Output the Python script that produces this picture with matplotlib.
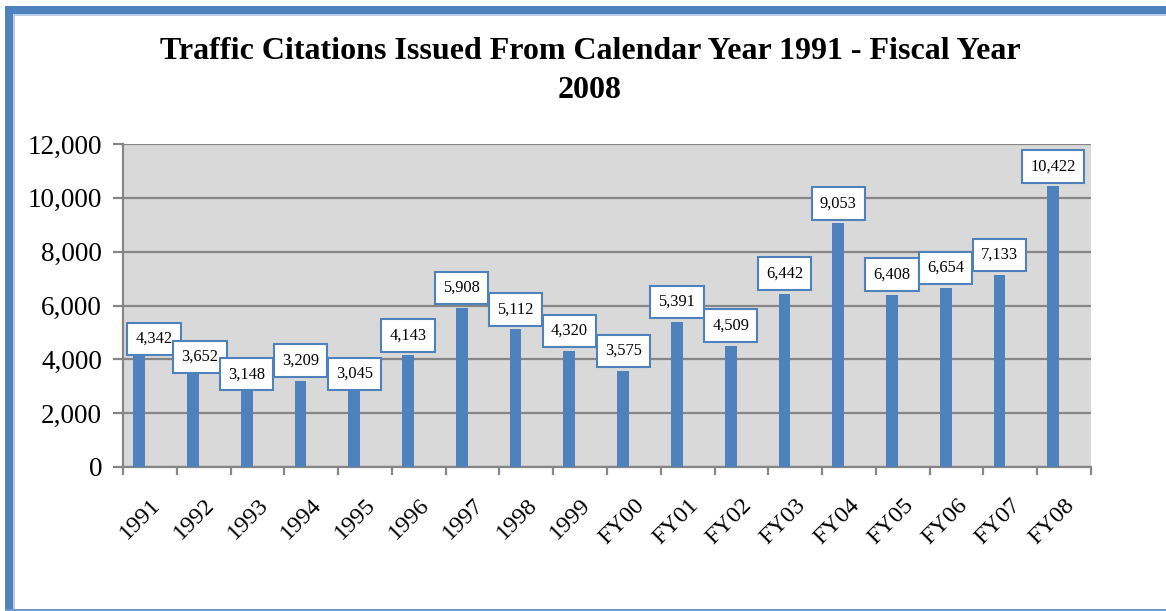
import matplotlib
matplotlib.use("Agg")
import matplotlib.pyplot as plt
from matplotlib.patches import Rectangle

categories = ["1991", "1992", "1993", "1994", "1995", "1996", "1997", "1998", "1999",
              "FY00", "FY01", "FY02", "FY03", "FY04", "FY05", "FY06", "FY07", "FY08"]
citations = [4342, 3652, 3148, 3209, 3045, 4143, 5908, 5112, 4320,
             3575, 5391, 4509, 6442, 9053, 6408, 6654, 7133, 10422]
yticks = [0, 2000, 4000, 6000, 8000, 10000, 12000]
title = "Traffic Citations Issued From Calendar Year 1991 - Fiscal Year\n2008"

# label nudges (pixels) mimicking Excel's label placement
label_dx = [15, 7, 0, 0, 0, 0, 0, 0, 0, 0, 0, 0, 0, 0, 0, 0, 0, 0]
label_dy = [-9, -8, -12, 0, -9, 0, 0, 0, 0, 0, 0, 0, 0, 0, 0, 0, 0, 0]

W, H = 1166, 611
fig = plt.figure(figsize=(W / 100, H / 100), dpi=100)
fig.patch.set_facecolor("white")
plt.rcParams["font.family"] = ["Liberation Serif", "DejaVu Serif"]

blue = "#4F81BD"
ax = fig.add_axes([123 / W, 1 - 467 / H, (1091 - 123) / W, (467 - 144) / H])
ax.set_facecolor("#D9D9D9")

x = list(range(len(categories)))
bx = [i - 0.2 for i in x]
ax.bar(bx, citations, width=0.22, color=blue, zorder=3)

ax.set_xlim(-0.5, len(categories) - 0.5)
ax.set_ylim(0, 12000)
ax.set_yticks(yticks)
ax.set_yticklabels([f"{v:,}" for v in yticks], fontsize=19.5)
ax.yaxis.grid(True, color="#868686", linewidth=1.6, zorder=1)
ax.set_axisbelow(True)

ax.set_xticks([i - 0.5 for i in range(len(categories) + 1)])
ax.set_xticklabels([])
ax.set_xticks(x, minor=True)
ax.set_xticklabels(categories, minor=True, rotation=45, ha="right",
                   rotation_mode="anchor", fontsize=17.5)
ax.tick_params(axis="x", which="minor", length=0, pad=20)
ax.tick_params(axis="x", which="major", length=6, width=1.6, color="#868686", direction="out")
ax.tick_params(axis="y", length=7, width=1.6, color="#868686", direction="out", pad=8)

for s in ["top", "right"]:
    ax.spines[s].set_visible(False)
for s in ["left", "bottom"]:
    ax.spines[s].set_color("#868686")
    ax.spines[s].set_linewidth(1.6)

for i, v in enumerate(citations):
    ax.annotate(f"{v:,}", xy=(bx[i], v), xytext=(label_dx[i] * 0.72, (12 + label_dy[i]) * 0.72),
                textcoords="offset points", ha="center", va="bottom", fontsize=11.8,
                bbox=dict(boxstyle="square,pad=0.5", fc="white", ec=blue, lw=1.5),
                zorder=5)

fig.text(590 / W, 1 - 71 / H, title, ha="center", va="center", fontsize=23,
         fontweight="bold", linespacing=1.45)

# outer frame
fig.add_artist(Rectangle((5 / W, 0), 8 / W, (H - 6) / H, transform=fig.transFigure,
                         facecolor=blue, edgecolor="none"))
fig.add_artist(Rectangle((13 / W, 0), 1.5 / W, (H - 14) / H, transform=fig.transFigure,
                         facecolor="#B9CDE5", edgecolor="none"))
fig.add_artist(Rectangle((5 / W, 1 - 14 / H), (W - 5) / W, 8 / H, transform=fig.transFigure,
                         facecolor=blue, edgecolor="none"))
fig.add_artist(Rectangle((13 / W, 1 - 15.5 / H), (W - 13) / W, 1.5 / H, transform=fig.transFigure,
                         facecolor="#B9CDE5", edgecolor="none"))
fig.add_artist(Rectangle((5 / W, 0), (W - 5) / W, 2.5 / H, transform=fig.transFigure,
                         facecolor="#6F9AD0", edgecolor="none"))

fig.savefig("out.png", dpi=100)
